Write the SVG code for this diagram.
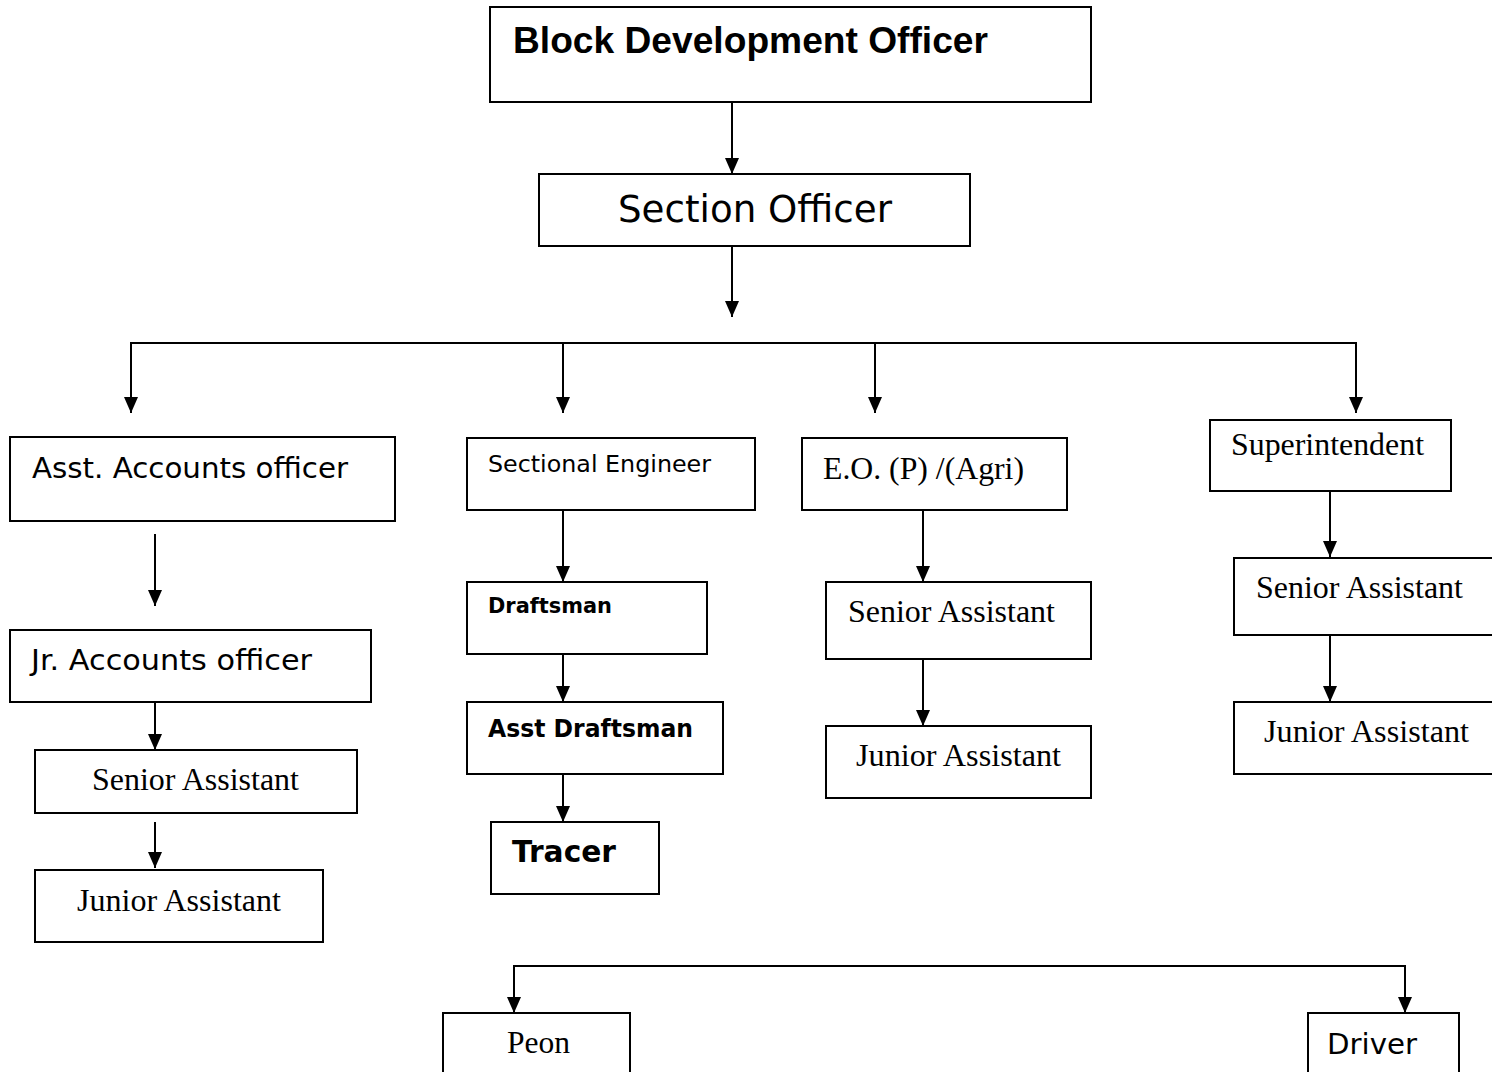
<svg xmlns="http://www.w3.org/2000/svg" width="1492" height="1072" viewBox="0 0 1492 1072">
<style>
.box{fill:#fff;stroke:#000;stroke-width:2}
.c{fill:none;stroke:#000;stroke-width:2}
.v{font-family:"DejaVu Sans",Verdana,sans-serif;fill:#000}
.a{font-family:"Liberation Sans",Arial,sans-serif;fill:#000}
.t{font-family:"Liberation Serif","Times New Roman",serif;fill:#000;font-size:31px}
.b{font-weight:bold}
</style>
<defs>
<marker id="arr" markerUnits="userSpaceOnUse" viewBox="0 0 16 14" refX="16" refY="7" markerWidth="16" markerHeight="14" orient="auto">
<path d="M0,0 L16,7 L0,14 z" fill="#000"/>
</marker>
</defs>
<rect width="1492" height="1072" fill="#fff"/>
<g id="connectors">
<line class="c" x1="732" y1="102" x2="732" y2="174" marker-end="url(#arr)"/>
<line class="c" x1="732" y1="246" x2="732" y2="317" marker-end="url(#arr)"/>
<line class="c" x1="131" y1="343" x2="1356" y2="343"/>
<line class="c" x1="131" y1="342" x2="131" y2="413" marker-end="url(#arr)"/>
<line class="c" x1="563" y1="343" x2="563" y2="413" marker-end="url(#arr)"/>
<line class="c" x1="875" y1="343" x2="875" y2="413" marker-end="url(#arr)"/>
<line class="c" x1="1356" y1="342" x2="1356" y2="413" marker-end="url(#arr)"/>
<line class="c" x1="155" y1="534" x2="155" y2="606" marker-end="url(#arr)"/>
<line class="c" x1="155" y1="702" x2="155" y2="750" marker-end="url(#arr)"/>
<line class="c" x1="155" y1="822" x2="155" y2="868" marker-end="url(#arr)"/>
<line class="c" x1="563" y1="510" x2="563" y2="582" marker-end="url(#arr)"/>
<line class="c" x1="563" y1="654" x2="563" y2="702" marker-end="url(#arr)"/>
<line class="c" x1="563" y1="774" x2="563" y2="822" marker-end="url(#arr)"/>
<line class="c" x1="923" y1="510" x2="923" y2="582" marker-end="url(#arr)"/>
<line class="c" x1="923" y1="654" x2="923" y2="726" marker-end="url(#arr)"/>
<line class="c" x1="1330" y1="486" x2="1330" y2="557" marker-end="url(#arr)"/>
<line class="c" x1="1330" y1="630" x2="1330" y2="702" marker-end="url(#arr)"/>
<line class="c" x1="514" y1="966" x2="1405" y2="966"/>
<line class="c" x1="514" y1="965" x2="514" y2="1013" marker-end="url(#arr)"/>
<line class="c" x1="1405" y1="965" x2="1405" y2="1013" marker-end="url(#arr)"/>
</g>
<g id="bdo"><rect class="box" x="490" y="7" width="601" height="95"/><text class="a b" x="513" y="53" font-size="36" textLength="475" lengthAdjust="spacingAndGlyphs">Block Development Officer</text></g>
<g id="section-officer"><rect class="box" x="539" y="174" width="431" height="72"/><text class="v" x="618" y="222" font-size="37" textLength="274" lengthAdjust="spacingAndGlyphs">Section Officer</text></g>
<g id="asst-accounts"><rect class="box" x="10" y="437" width="385" height="84"/><text class="v" x="32" y="478" font-size="29" textLength="316" lengthAdjust="spacingAndGlyphs">Asst. Accounts officer</text></g>
<g id="sectional-engineer"><rect class="box" x="467" y="438" width="288" height="72"/><text class="v" x="488" y="472" font-size="23" textLength="223" lengthAdjust="spacingAndGlyphs">Sectional Engineer</text></g>
<g id="eo"><rect class="box" x="802" y="438" width="265" height="72"/><text class="t" x="823" y="479" textLength="201" lengthAdjust="spacingAndGlyphs">E.O. (P) /(Agri)</text></g>
<g id="superintendent"><rect class="box" x="1210" y="420" width="241" height="71"/><text class="t" x="1231" y="455" textLength="193" lengthAdjust="spacingAndGlyphs">Superintendent</text></g>
<g id="jr-accounts"><rect class="box" x="10" y="630" width="361" height="72"/><text class="v" x="31" y="670" font-size="29" textLength="281" lengthAdjust="spacingAndGlyphs">Jr. Accounts officer</text></g>
<g id="senior-1"><rect class="box" x="35" y="750" width="322" height="63"/><text class="t" x="92" y="790" textLength="207" lengthAdjust="spacingAndGlyphs">Senior Assistant</text></g>
<g id="junior-1"><rect class="box" x="35" y="870" width="288" height="72"/><text class="t" x="77" y="911" textLength="204" lengthAdjust="spacingAndGlyphs">Junior Assistant</text></g>
<g id="draftsman"><rect class="box" x="467" y="582" width="240" height="72"/><text class="v b" x="488" y="613" font-size="21" textLength="124" lengthAdjust="spacingAndGlyphs">Draftsman</text></g>
<g id="asst-draftsman"><rect class="box" x="467" y="702" width="256" height="72"/><text class="v b" x="488" y="737" font-size="25" textLength="205" lengthAdjust="spacingAndGlyphs">Asst Draftsman</text></g>
<g id="tracer"><rect class="box" x="491" y="822" width="168" height="72"/><text class="v b" x="512" y="862" font-size="30" textLength="104" lengthAdjust="spacingAndGlyphs">Tracer</text></g>
<g id="senior-3"><rect class="box" x="826" y="582" width="265" height="77"/><text class="t" x="848" y="622" textLength="207" lengthAdjust="spacingAndGlyphs">Senior Assistant</text></g>
<g id="junior-3"><rect class="box" x="826" y="726" width="265" height="72"/><text class="t" x="856" y="766" textLength="205" lengthAdjust="spacingAndGlyphs">Junior Assistant</text></g>
<g id="senior-4"><rect class="box" x="1234" y="558" width="270" height="77"/><text class="t" x="1256" y="598" textLength="207" lengthAdjust="spacingAndGlyphs">Senior Assistant</text></g>
<g id="junior-4"><rect class="box" x="1234" y="702" width="270" height="72"/><text class="t" x="1264" y="742" textLength="205" lengthAdjust="spacingAndGlyphs">Junior Assistant</text></g>
<g id="peon"><rect class="box" x="443" y="1013" width="187" height="70"/><text class="t" x="507" y="1053" textLength="63" lengthAdjust="spacingAndGlyphs">Peon</text></g>
<g id="driver"><rect class="box" x="1308" y="1013" width="151" height="70"/><text class="v" x="1327" y="1054" font-size="29" textLength="90" lengthAdjust="spacingAndGlyphs">Driver</text></g>
</svg>
